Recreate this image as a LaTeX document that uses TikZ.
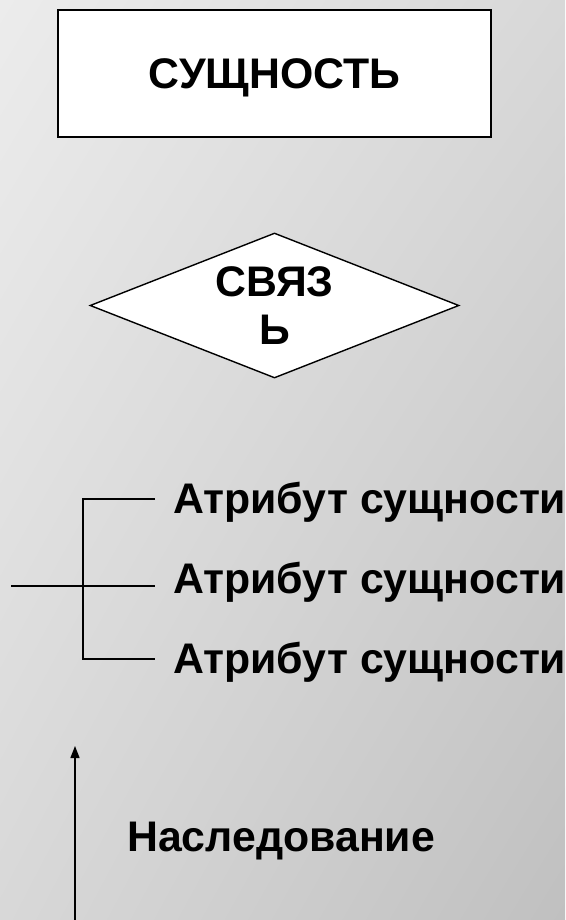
\documentclass[tikz,border=0pt]{standalone}
\usepackage{fontspec}
\setmainfont{Liberation Sans}
\usetikzlibrary{positioning,shapes.geometric,arrows.meta,shadings}
\definecolor{bgtl}{RGB}{236,236,236}
\definecolor{bgmid}{RGB}{216,216,216}
\definecolor{bgbr}{RGB}{192,192,192}
\tikzset{
>={Triangle[length=12pt,width=9pt]},
  entity/.style={
    rectangle,
    draw=black, line width=2pt,
    fill=white,
    minimum width=433pt,
    minimum height=127pt,
    text depth=0pt,
    inner sep=0pt},
  relation/.style={
    diamond,
    aspect=2.5,
    draw=black, line width=1.4pt,
    fill=white,
    minimum width=369pt,
    minimum height=145pt,
    inner sep=0pt,
    align=center},
  lbl/.style={inner sep=0pt, anchor=base west},
  line/.style={draw, line width=1.4pt},
  bigtext/.style={font=\fontsize{42.8}{48}\selectfont\bfseries},
}
\begin{document}
\begin{tikzpicture}[x=1pt,y=-1pt,every node/.style={bigtext}]
  % background
  \shade[upper left=bgtl, upper right=bgmid, lower left=bgmid, lower right=bgbr]
    (0,0) rectangle (565,920);
  \useasboundingbox (0,0) rectangle (565,920);

  \node[entity] (ent) at (274.5,73.5) {СУЩНОСТЬ};
  \node[relation] (rel) at (274.5,305.5) {СВЯЗ\\Ь};

  % attributes
  \node[lbl] (attr1) at (173,513) {Атрибут сущности};
  \node[lbl] (attr2) at (173,593) {Атрибут сущности};
  \node[lbl] (attr3) at (173,673) {Атрибут сущности};
  \coordinate (stub) at (11,586);
  \coordinate (fork) at (83,586);
  \coordinate (a1) at (155,499);
  \coordinate (a2) at (155,586);
  \coordinate (a3) at (155,659);
  \path[line] (stub) -- (a2);
  \path[line] (a1) -| (fork) |- (a3);

  % inheritance
  \node[lbl] (inh) at (127,851) {Наследование};
  \coordinate (inhbot) at (75,920);
  \coordinate (inhtop) at (75,746);
  \draw[->, line width=1.4pt] (inhbot) -- (inhtop);
\end{tikzpicture}
\end{document}
